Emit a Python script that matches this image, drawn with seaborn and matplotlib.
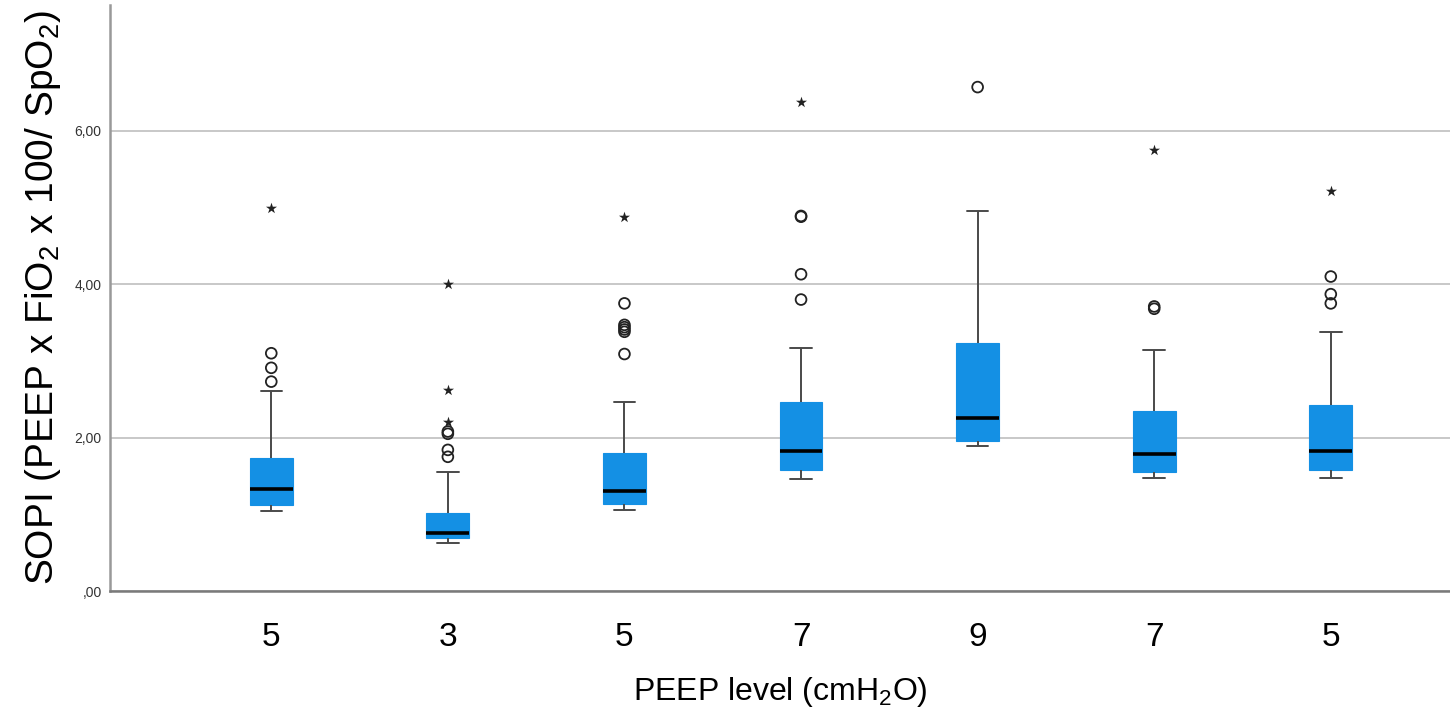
import pandas as pd
import numpy as np
import seaborn as sns
import matplotlib.pyplot as plt

# PEEP level of each measurement step (x tick labels)
peep_labels = ["5", "3", "5", "7", "9", "7", "5"]

# box statistics (SOPI)
whisker_low = [1.04, 0.62, 1.05, 1.465, 1.89, 1.48, 1.47]
q1 = [1.12, 0.69, 1.14, 1.58, 1.96, 1.55, 1.58]
median = [1.33, 0.76, 1.31, 1.82, 2.26, 1.79, 1.83]
q3 = [1.735, 1.02, 1.80, 2.46, 3.24, 2.35, 2.43]
whisker_high = [2.61, 1.555, 2.47, 3.17, 4.95, 3.14, 3.38]

# outliers (circles) and extreme values (stars)
circle_step = [0, 0, 0, 1, 1, 1, 1, 2, 2, 2, 2, 2, 2, 3, 3, 3, 3, 4, 5, 5, 6, 6, 6]
circle_val = [2.73, 2.91, 3.10, 1.75, 1.84, 2.05, 2.08, 3.09, 3.38, 3.41, 3.44, 3.47, 3.75,
              3.80, 4.13, 4.88, 4.89, 6.57, 3.68, 3.71, 3.75, 3.87, 4.10]
star_step = [0, 1, 1, 1, 2, 3, 5, 6]
star_val = [4.99, 2.21, 2.62, 4.00, 4.87, 6.37, 5.75, 5.22]

sns.set_style("white")
plt.rcParams['font.family'] = ['Liberation Sans', 'DejaVu Sans']
plt.rcParams['mathtext.fontset'] = 'custom'
plt.rcParams['mathtext.rm'] = 'Liberation Sans'
plt.rcParams['text.color'] = 'black'
plt.rcParams['axes.labelcolor'] = 'black'

# five values per step, so the quartiles land on the read values
rows = []
for i in range(len(peep_labels)):
    for v in [whisker_low[i], q1[i], median[i], q3[i], whisker_high[i]]:
        rows.append({"step": i, "sopi": v})
box_df = pd.DataFrame(rows)

fig = plt.figure(figsize=(14.5, 7.17), dpi=100)
ax = fig.add_axes([0.0759, 0.1757, 0.9241, 0.8173])

blue = "#1490E4"
sns.boxplot(data=box_df, x="step", y="sopi", ax=ax, whis=(0, 100), showfliers=False,
            width=0.243, color=blue,
            boxprops=dict(facecolor=blue, edgecolor=blue, linewidth=0.8),
            medianprops=dict(color="black", linewidth=2.6),
            whiskerprops=dict(color="#4a4a4a", linewidth=1.4),
            capprops=dict(color="#4a4a4a", linewidth=1.4))

sns.scatterplot(x=circle_step, y=circle_val, ax=ax, marker="o", s=60,
                facecolor="none", edgecolor="#222222", linewidth=1.3, zorder=5)
sns.scatterplot(x=star_step, y=star_val, ax=ax, marker="*", s=70,
                color="#222222", linewidth=0, zorder=5)

ax.set_xlim(-0.913, 6.675)
ax.set_ylim(0, 7.64)
ax.set_xticks(range(len(peep_labels)))
ax.set_xticklabels(peep_labels, fontsize=24, color="black")
ax.set_yticks([0, 2, 4, 6])
ax.set_yticklabels([",00", "2,00", "4,00", "6,00"], fontsize=10, color="#333333")
ax.tick_params(axis="x", length=0, pad=22)
ax.tick_params(axis="y", length=0, pad=6)

ax.yaxis.grid(True, color="#c4c4c4", linewidth=1.3)
ax.set_axisbelow(True)
for side in ["top", "right"]:
    ax.spines[side].set_visible(False)
ax.spines["left"].set_color("#999999")
ax.spines["left"].set_linewidth(1.8)
ax.spines["bottom"].set_color("#7a7a7a")
ax.spines["bottom"].set_linewidth(1.8)

ax.set_xlabel(r"PEEP level (cmH$_\mathregular{2}$O)", fontsize=23, labelpad=16)
ax.set_ylabel(r"SOPI (PEEP x FiO$_\mathregular{2}$ x 100/ SpO$_\mathregular{2}$)",
              fontsize=28, labelpad=8)

plt.savefig("out.png", dpi=100)
